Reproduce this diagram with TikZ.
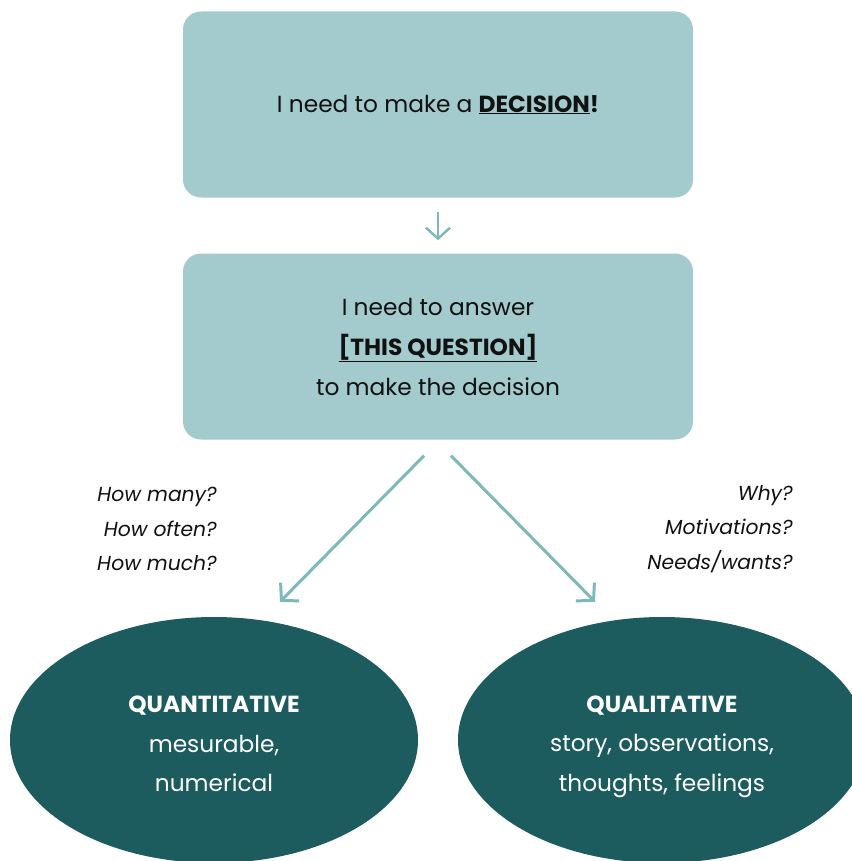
\documentclass[tikz,border=0pt]{standalone}
\usepackage{fontspec}
\setmainfont{Poppins}
\usepackage{tikz}
\usepackage{xcolor}
\usetikzlibrary{arrows.meta,positioning,shapes,calc}
\definecolor{boxteal}{HTML}{A3CBCD}
\definecolor{arrowteal}{HTML}{7DB8BA}
\definecolor{darkteal}{HTML}{1D5C5E}
\definecolor{ink}{HTML}{111111}
\newcommand{\toprule}{\rule{0pt}{30pt}}
\newcommand{\lowrule}{\rule[-6pt]{0pt}{6pt}}
\tikzset{
  stepcard/.style={fill=boxteal,rounded corners=18pt,
                   minimum width=510pt,minimum height=186pt,
                   align=center,font=\fontsize{23.3}{40}\selectfont,
                   text=ink,inner sep=0pt},
  kindoval/.style={ellipse,fill=darkteal,text=white,
                   minimum width=408pt,minimum height=246pt,
                   align=center,font=\fontsize{23.3}{39.5}\selectfont,inner sep=0pt},
  hintlist/.style={align=right,anchor=east,text=ink,inner sep=0pt,
                   font=\fontsize{20.3}{34.7}\selectfont\itshape},
  flowarr/.style={-{Straight Barb[length=12pt,width=26pt]},line width=3pt,
                  color=arrowteal},
  smallarr/.style={-{Straight Barb[length=11pt,width=24pt]},line width=2.4pt,
                   color=arrowteal}
}
\begin{document}
\begin{tikzpicture}[x=1pt,y=-1pt]
  \useasboundingbox (0,0) rectangle (851,861);

  \node[stepcard] (decision) at (438,104.5)
    {I need to make a \underline{\textbf{DECISION}}\textbf{!}};
  \node[stepcard] (question) at (438,346.5)
    {I need to answer\\ \underline{\textbf{[THIS QUESTION]}}\\ to make the decision};
  \draw[smallarr,shorten <=14pt,shorten >=13pt] (decision.south) -- (question.north);

  \node[kindoval] (quant) at (214,740)
    {\toprule\textbf{QUANTITATIVE}\\ mesurable,\\ numerical\lowrule};
  \node[kindoval] (qual) at (662,740)
    {\toprule\textbf{QUALITATIVE}\\ story, observations,\\ thoughts, feelings\lowrule};

  \node[hintlist] (howq) at (217,529) {How many?\\ How often?\\ How much?};
  \node[hintlist] (whyq) at (793,529) {Why?\\ Motivations?\\ Needs/wants?};

  \draw[flowarr] ($(question.south)+(-14,16)$) -- ($(quant.north)+(66,-15)$);
  \draw[flowarr] ($(question.south)+(13,16)$) -- ($(qual.north)+(-67,-15)$);
\end{tikzpicture}
\end{document}
